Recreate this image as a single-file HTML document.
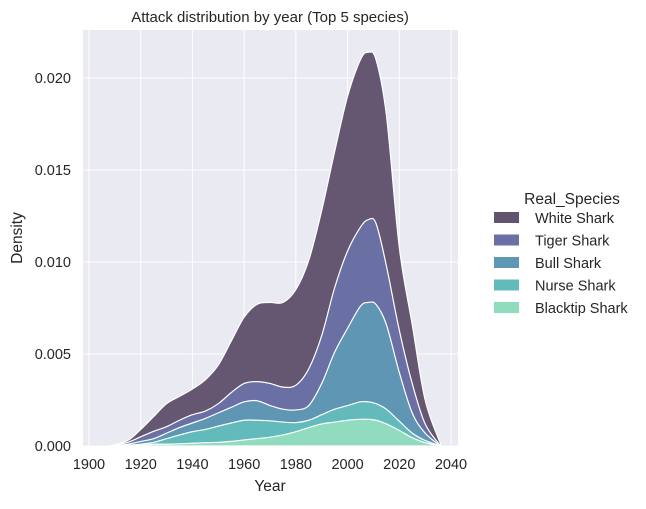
<!DOCTYPE html>
<html><head><meta charset="utf-8"><style>
body{margin:0;background:#fff;}
svg text{font-family:"Liberation Sans",Arial,sans-serif;fill:#262626;}
</style></head><body>
<svg id="chart" width="646" height="504" viewBox="0 0 646 504" xmlns="http://www.w3.org/2000/svg">
<rect x="83" y="30" width="375" height="416" fill="#eaeaf2"/>
<g id="grid"></g>
<g id="areas"></g>
<g id="axes"></g>
<text x="270" y="22" text-anchor="middle" font-size="15">Attack distribution by year (Top 5 species)</text>
<text x="270" y="491" text-anchor="middle" font-size="15.5">Year</text>
<text transform="translate(22,238) rotate(-90)" text-anchor="middle" font-size="15.5">Density</text>
<g id="legend"></g>
</svg>
<script>
const years=[1908,1915,1920,1925,1930,1935,1940,1945,1950,1955,1960,1965,1970,1975,1980,1985,1990,1995,2000,2005,2008,2011,2015,2020,2025,2030,2036];
const blacktip=[0,0.00002,0.00005,0.0001,0.0001,0.00012,0.00015,0.00018,0.0002,0.00025,0.00033,0.0004,0.00048,0.0006,0.00078,0.001,0.0012,0.0013,0.0014,0.00145,0.00145,0.0014,0.0012,0.00085,0.00045,0.00018,0];
const nurse=[0,0.00003,0.00005,0.0001,0.0003,0.00048,0.00063,0.00072,0.00088,0.001,0.00107,0.001,0.00089,0.0007,0.00049,0.0004,0.0005,0.0007,0.0008,0.00095,0.00095,0.0009,0.0008,0.0005,0.00025,0.00012,0];
const bull=[0,0.00005,0.00015,0.0002,0.0003,0.0004,0.00047,0.0006,0.00072,0.00085,0.001,0.00106,0.00083,0.0007,0.00069,0.0008,0.0017,0.0031,0.0042,0.0052,0.0054,0.0054,0.0046,0.00265,0.0011,0.0004,0];
const tiger=[0,0.0001,0.00025,0.0004,0.00035,0.0004,0.00045,0.0004,0.0005,0.0008,0.001,0.00104,0.0012,0.0012,0.00134,0.002,0.0026,0.0035,0.0042,0.0043,0.0045,0.0044,0.0032,0.0023,0.0016,0.0005,0];
const white=[0,0.0001,0.0004,0.0008,0.00125,0.0013,0.0014,0.0017,0.0021,0.0028,0.0036,0.0042,0.0044,0.0046,0.0052,0.0059,0.0068,0.0074,0.0084,0.0091,0.0091,0.0089,0.0082,0.0045,0.0032,0.0013,0.0001];
const xTicks=[1900,1920,1940,1960,1980,2000,2020,2040];
const yTicks=[0,0.005,0.01,0.015,0.02];
const yTickLabels=["0.000","0.005","0.010","0.015","0.020"];
const speciesNames=["White Shark","Tiger Shark","Bull Shark","Nurse Shark","Blacktip Shark"];
const colors=["#62546f","#6a6fa5","#5f97b5","#62bbbb","#92dcbe"];

const X=y=>89+(y-1900)*362/140;
const Y=v=>446-v*18400;
const NS="http://www.w3.org/2000/svg";
function mk(tag,attrs,parent){const e=document.createElementNS(NS,tag);for(const k in attrs)e.setAttribute(k,attrs[k]);parent.appendChild(e);return e;}
const grid=document.getElementById('grid'),axes=document.getElementById('axes'),areas=document.getElementById('areas'),legend=document.getElementById('legend');
xTicks.forEach(t=>{
  const l=mk('line',{x1:X(t),x2:X(t),y1:30,y2:446,stroke:'#fff','stroke-width':1},grid);
  
  
  const tx=mk('text',{x:X(t),y:469,'text-anchor':'middle','font-size':14.5},axes);
  tx.textContent=t;
  
  
});
yTicks.forEach((t,i)=>{
  const l=mk('line',{x1:83,x2:458,y1:Y(t),y2:Y(t),stroke:'#fff','stroke-width':1},grid);
  
  
  const tx=mk('text',{x:71,y:Y(t)+5,'text-anchor':'end','font-size':14.5},axes);
  tx.textContent=yTickLabels[i];
  
  
});
const series=[white,tiger,bull,nurse,blacktip];
const tops=series.map((s,i)=>years.map((_,j)=>{let v=0;for(let k=i;k<series.length;k++)v+=series[k][j];return v;}));
function smooth(pts){
  let d=`M${pts[0][0]},${pts[0][1]}`;
  for(let i=0;i<pts.length-1;i++){
    const p0=pts[Math.max(0,i-1)],p1=pts[i],p2=pts[i+1],p3=pts[Math.min(pts.length-1,i+2)];
    const c1=[p1[0]+(p2[0]-p0[0])/6,p1[1]+(p2[1]-p0[1])/6];
    const c2=[p2[0]-(p3[0]-p1[0])/6,p2[1]-(p3[1]-p1[1])/6];
    d+=` C${c1[0]},${Math.min(446,c1[1])} ${c2[0]},${Math.min(446,c2[1])} ${p2[0]},${p2[1]}`;
  }
  return d;
}
tops.forEach((top,i)=>{
  const pts=years.map((yr,j)=>[X(yr),Y(top[j])]);
  const d=smooth(pts)+` L${X(years[years.length-1])},446 L${X(years[0])},446 Z`;
  const p=mk('path',{d:d,fill:colors[i],'fill-opacity':0.98,stroke:'#fff','stroke-width':1.2,'stroke-linejoin':'round'},areas);
  
  
});
const lt=mk('text',{x:572,y:204,'text-anchor':'middle','font-size':15.5},legend);
lt.textContent='Real_Species';


speciesNames.forEach((n,i)=>{
  const y=218+i*22.5;
  const r=mk('rect',{x:494,y:y-6,width:25,height:11,fill:colors[i]},legend);
  
  
  const t=mk('text',{x:535,y:y+5,'font-size':14.5},legend);
  t.textContent=n;
  
  
});
</script>
</body></html>
